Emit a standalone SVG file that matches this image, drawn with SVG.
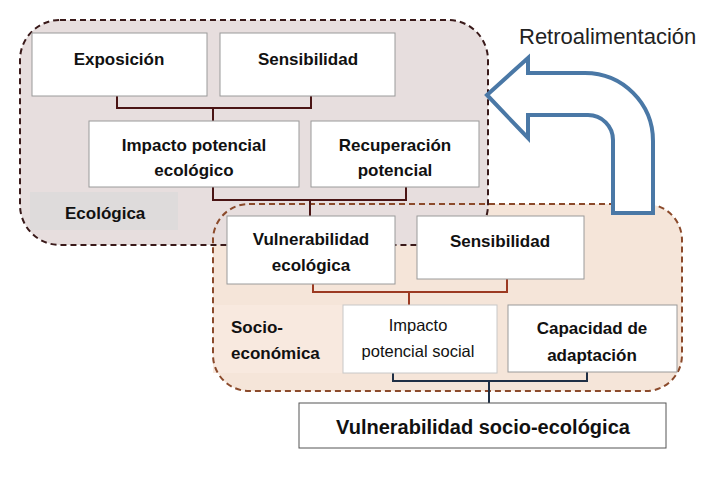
<svg xmlns="http://www.w3.org/2000/svg" width="709" height="481" viewBox="0 0 709 481">
<style>
.box{fill:#fff;stroke:#9a9a9a;stroke-width:1}
.t{font-family:"Liberation Sans",Arial,sans-serif;font-weight:bold;font-size:17px;fill:#111;text-anchor:middle}
.tn{font-family:"Liberation Sans",Arial,sans-serif;font-size:16.5px;fill:#111;text-anchor:middle}
.lbl{font-family:"Liberation Sans",Arial,sans-serif;font-weight:bold;font-size:17px;fill:#111}
.c1{fill:none;stroke:#4a1414;stroke-width:2}
.c2{fill:none;stroke:#9c3a22;stroke-width:2}
.c3{fill:none;stroke:#1f2f45;stroke-width:2}
</style>
<rect width="709" height="481" fill="#fff"/>
<g id="containers">
<rect x="213" y="204" width="469" height="187" rx="36" fill="#f5e5d9"/>
<rect x="20" y="20" width="468" height="225" rx="40" fill="#e7dede"/>
<rect x="30" y="192" width="148" height="38" fill="#dedbdb"/>
<rect x="213" y="305" width="130" height="68" fill="#f8e9df"/>
<rect x="213" y="204" width="469" height="187" rx="36" fill="none" stroke="#8b4a2b" stroke-width="2" stroke-dasharray="6 4"/>
<rect x="20" y="20" width="468" height="225" rx="40" fill="none" stroke="#3a1a1a" stroke-width="2" stroke-dasharray="6 4"/>
</g>
<g id="labels">
<text class="lbl" x="65" y="219">Ecológica</text>
<text class="lbl" x="231" y="333">Socio-</text>
<text class="lbl" x="231" y="359">económica</text>
</g>
<g id="connectors">
<path class="c1" d="M117 96V108H311V96M213 108V121"/>
<path class="c1" d="M213 187V200H406V187M310 200V216"/>
<path class="c2" d="M313 284V292H507V279M409 292V305"/>
<path class="c3" d="M393 373V381H587V372M489 381V403"/>
</g>
<g id="n-exposicion"><rect class="box" x="32" y="33" width="175" height="63"/><text class="t" x="119" y="65">Exposición</text></g>
<g id="n-sensibilidad1"><rect class="box" x="220" y="33" width="175" height="63"/><text class="t" x="308" y="65">Sensibilidad</text></g>
<g id="n-impacto-eco"><rect class="box" x="89" y="121" width="210" height="66"/><text class="t" x="194" y="151">Impacto potencial</text><text class="t" x="194" y="176">ecológico</text></g>
<g id="n-recuperacion"><rect class="box" x="311" y="121" width="168" height="66"/><text class="t" x="395" y="151">Recuperación</text><text class="t" x="395" y="176">potencial</text></g>
<g id="n-vuln-eco"><rect class="box" x="227" y="216" width="168" height="68"/><text class="t" x="311" y="245">Vulnerabilidad</text><text class="t" x="311" y="271">ecológica</text></g>
<g id="n-sensibilidad2"><rect class="box" x="417" y="216" width="167" height="63"/><text class="t" x="500" y="247">Sensibilidad</text></g>
<g id="n-impacto-social"><rect x="343" y="305" width="154" height="68" fill="#fff" stroke="#c8c8c8" stroke-width="1"/><text class="tn" x="418" y="331">Impacto</text><text class="tn" x="418" y="357">potencial social</text></g>
<g id="n-capacidad"><rect class="box" x="508" y="305" width="169" height="67"/><text class="t" x="592" y="334">Capacidad de</text><text class="t" x="592" y="361">adaptación</text></g>
<g id="n-vuln-socio"><rect x="299" y="403" width="367" height="45" fill="#fff" stroke="#555" stroke-width="1"/><text class="t" x="483" y="434" style="font-size:20px">Vulnerabilidad socio-ecológica</text></g>
<g id="feedback">
<path d="M487 95L528 58V73H585A68 68 0 0 1 653 141V213H613V140A25 25 0 0 0 588 115H528V138Z" fill="#fff" stroke="#4a78a6" stroke-width="4" stroke-linejoin="miter"/>
<text x="519" y="44" style="font-family:'Liberation Sans',Arial,sans-serif;font-size:22px;fill:#222">Retroalimentación</text>
</g>
</svg>
